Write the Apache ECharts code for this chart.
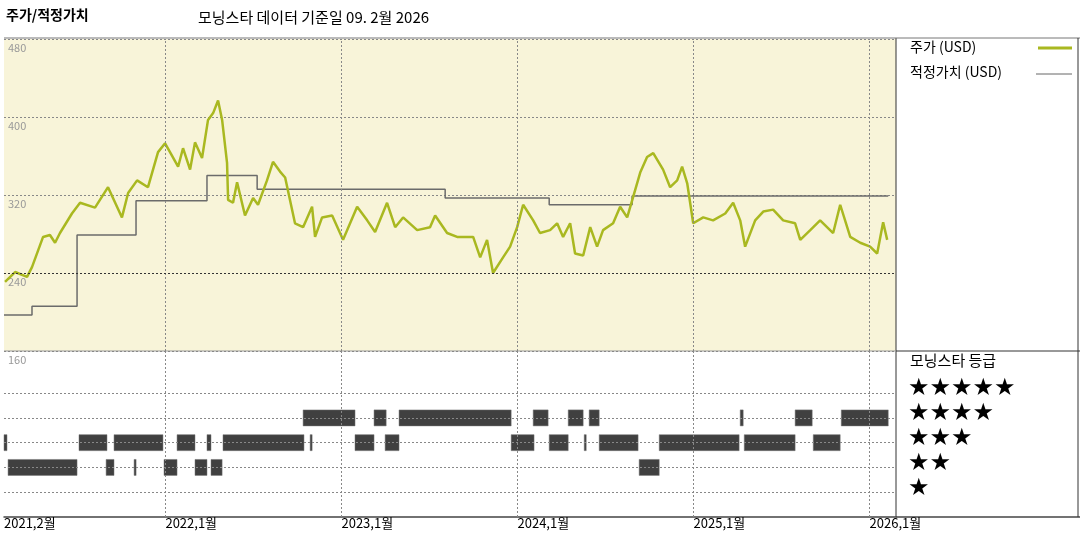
<!DOCTYPE html>
<html><head><meta charset="utf-8">
<script src="https://cdn.jsdelivr.net/npm/echarts@6/dist/echarts.min.js"></script>
<style>html,body{margin:0;padding:0;background:#fff}#c{width:1080px;height:540px}</style>
</head><body><div id="c"></div>
<script>
const priceDates = [2021.089,2021.146,2021.214,2021.242,2021.305,2021.344,2021.373,2021.401,2021.469,2021.515,2021.600,2021.674,2021.753,2021.788,2021.839,2021.901,2021.958,2021.998,2022.026,2022.072,2022.100,2022.140,2022.168,2022.208,2022.242,2022.271,2022.299,2022.322,2022.350,2022.356,2022.384,2022.407,2022.452,2022.498,2022.526,2022.577,2022.611,2022.651,2022.680,2022.736,2022.782,2022.833,2022.850,2022.890,2022.947,2023.009,2023.089,2023.146,2023.191,2023.259,2023.305,2023.350,2023.430,2023.503,2023.532,2023.600,2023.657,2023.748,2023.788,2023.827,2023.861,2023.918,2023.958,2023.998,2024.032,2024.089,2024.128,2024.185,2024.225,2024.259,2024.299,2024.327,2024.373,2024.413,2024.452,2024.486,2024.543,2024.583,2024.623,2024.657,2024.697,2024.736,2024.771,2024.827,2024.867,2024.907,2024.935,2024.964,2024.998,2025.055,2025.111,2025.180,2025.225,2025.265,2025.293,2025.350,2025.396,2025.452,2025.509,2025.577,2025.606,2025.663,2025.719,2025.793,2025.833,2025.890,2025.947,2026.003,2026.043,2026.077,2026.100];
const priceValues = [231,241,236,246,277,279,271,281,301,312,307,328,297,322,335,328,364,373,364,349,368,346,374,358,397,404,417,397,353,315,312,333,299,317,310,335,354,344,338,291,287,308,277,297,299,274,308,294,282,312,287,297,284,287,299,281,277,277,256,274,240,256,267,287,310,294,281,284,291,277,291,260,258,287,267,284,291,308,297,318,343,359,363,346,328,335,349,332,291,297,294,301,312,294,267,294,303,305,294,291,274,284,294,281,310,277,271,267,260,292,274,287];
const fairDates = [2021.083,2021.242,2021.498,2021.833,2022.236,2022.521,2023.589,2024.180,2024.651,2026.106];
const fairValues = [197,206,279,314,340,326,317,310,319,319];
const ratingStart = [2021.083,2021.106,2021.509,2021.663,2021.708,2021.822,2021.992,2022.066,2022.168,2022.236,2022.259,2022.327,2022.782,2022.822,2023.077,2023.185,2023.248,2023.327,2023.964,2024.089,2024.180,2024.288,2024.379,2024.407,2024.464,2024.691,2024.805,2025.265,2025.288,2025.577,2025.680,2025.839];
const ratingEnd =   [2021.100,2021.498,2021.668,2021.708,2021.986,2021.827,2022.066,2022.168,2022.236,2022.259,2022.322,2022.787,2023.077,2022.833,2023.185,2023.254,2023.327,2023.964,2024.094,2024.174,2024.288,2024.373,2024.390,2024.464,2024.685,2024.805,2025.259,2025.282,2025.577,2025.674,2025.833,2026.106];
const ratingStars = [3,2,3,2,3,2,2,3,2,3,2,3,4,3,3,4,3,4,3,4,3,4,3,4,3,2,3,4,3,4,3,4];
const yearTicks = [2021.083,2022,2023,2024,2025,2026];
const priceTicks = [160,240,320,400,480];

const FONT = '"Noto Sans CJK KR", "DejaVu Sans", sans-serif';
const X0 = 2021.083, X1 = 2026.15;
const pricePairs = priceDates.map((d,i)=>[d,priceValues[i]]);
const fairPairs = fairDates.map((d,i)=>[d,fairValues[i]]);
const ratingData = ratingStart.map((s,i)=>[s,ratingEnd[i],ratingStars[i]]);
const vLines = yearTicks.slice(1).map(v=>({xAxis:v}));
const dashed = {color:'#888',type:[2,2],width:1};

const chart = echarts.init(document.getElementById('c'));
chart.setOption({
  animation:false,
  textStyle:{fontFamily:FONT},
  grid:[
    {left:4,top:39,width:892,height:312,show:true,backgroundColor:'#f8f4d9',borderWidth:0},
    {left:4,top:351,width:892,height:166,show:false}
  ],
  xAxis:[
    {gridIndex:0,type:'value',min:X0,max:X1,axisLine:{show:false},axisTick:{show:false},axisLabel:{show:false},splitLine:{show:false}},
    {gridIndex:1,type:'value',min:X0,max:X1,axisLine:{show:true,lineStyle:{color:'#444',width:1.5}},axisTick:{show:false},splitLine:{show:false},
     axisLabel:{customValues:yearTicks,showMinLabel:true,showMaxLabel:true,hideOverlap:false,align:'left',margin:0,color:'#000',fontSize:13,
       formatter:v=>Math.abs(v-X0)<0.01?'2021,2월':Math.round(v)+',1월'}}
  ],
  yAxis:[
    {gridIndex:0,type:'value',min:160,max:480,interval:80,axisLine:{show:false},axisTick:{show:false},
     splitLine:{show:true,lineStyle:dashed},
     axisLabel:{inside:true,verticalAlign:'top',color:'#999',fontSize:11,margin:4,padding:[3,0,0,0],showMinLabel:true,showMaxLabel:true}},
    {gridIndex:1,type:'value',min:0,max:6.7,axisLine:{show:false},axisTick:{show:false},axisLabel:{show:false},splitLine:{show:false}}
  ],
  series:[
    {type:'line',xAxisIndex:0,yAxisIndex:0,data:fairPairs,step:'end',symbol:'none',lineStyle:{color:'#6b6b6b',width:1.5},
     markLine:{silent:true,symbol:'none',label:{show:false},lineStyle:dashed,data:vLines.concat([{xAxis:X0}])},z:2},
    {type:'line',xAxisIndex:0,yAxisIndex:0,data:pricePairs,symbol:'none',lineStyle:{color:'#a9b820',width:2.5},z:3,
     markLine:{silent:true,symbol:'none',label:{show:false},lineStyle:{color:'#333',type:[2,2],width:1},data:[{yAxis:240}]}},
    {type:'custom',xAxisIndex:1,yAxisIndex:1,data:ratingData,
     renderItem:(p,api)=>{
       const a=api.coord([api.value(0),api.value(2)]), b=api.coord([api.value(1),api.value(2)]);
       return {type:'rect',shape:{x:a[0],y:a[1]-8,width:Math.max(2,b[0]-a[0]),height:16},style:{fill:'#404040',stroke:'#777',lineWidth:0.5}};
     },
     markLine:{silent:true,symbol:'none',label:{show:false},lineStyle:dashed,
       data:vLines.concat([{xAxis:X0},{yAxis:1},{yAxis:2},{yAxis:3},{yAxis:4},{yAxis:5}])},z:3}
  ],
  graphic:[
    {type:'line',shape:{x1:896,y1:38,x2:896,y2:517},style:{stroke:'#333',lineWidth:1}},
    {type:'line',shape:{x1:4,y1:38,x2:1080,y2:38},style:{stroke:'#777',lineWidth:1}},
    {type:'line',shape:{x1:896,y1:351,x2:1080,y2:351},style:{stroke:'#333',lineWidth:1}},
    {type:'line',shape:{x1:4,y1:351,x2:896,y2:351},style:{stroke:'#999',lineWidth:1}},
    {type:'line',shape:{x1:896,y1:517,x2:1080,y2:517},style:{stroke:'#444',lineWidth:1.5}},
    {type:'line',shape:{x1:1078,y1:38,x2:1078,y2:517},style:{stroke:'#333',lineWidth:1}},
    {type:'text',left:6,top:8,style:{text:'주가/적정가치',font:'bold 14px '+FONT,fill:'#000'}},
    {type:'text',left:198,top:10,style:{text:'모닝스타 데이터 기준일 09. 2월 2026',font:'15px '+FONT,fill:'#000'}},
    {type:'text',left:910,top:40,style:{text:'주가 (USD)',font:'14px '+FONT,fill:'#000'}},
    {type:'line',shape:{x1:1038,y1:48,x2:1072,y2:48},style:{stroke:'#a9b820',lineWidth:3}},
    {type:'text',left:910,top:65,style:{text:'적정가치 (USD)',font:'14px '+FONT,fill:'#000'}},
    {type:'line',shape:{x1:1036,y1:74,x2:1072,y2:74},style:{stroke:'#666',lineWidth:1}},
    {type:'text',left:910,top:353,style:{text:'모닝스타 등급',font:'15px '+FONT,fill:'#000'}},
    {type:'text',left:908,top:377,style:{text:'★★★★★',font:'24px "DejaVu Sans"',fill:'#000'}},
    {type:'text',left:908,top:402,style:{text:'★★★★',font:'24px "DejaVu Sans"',fill:'#000'}},
    {type:'text',left:908,top:427,style:{text:'★★★',font:'24px "DejaVu Sans"',fill:'#000'}},
    {type:'text',left:908,top:452,style:{text:'★★',font:'24px "DejaVu Sans"',fill:'#000'}},
    {type:'text',left:908,top:477,style:{text:'★',font:'24px "DejaVu Sans"',fill:'#000'}}
  ]
});
</script></body></html>
